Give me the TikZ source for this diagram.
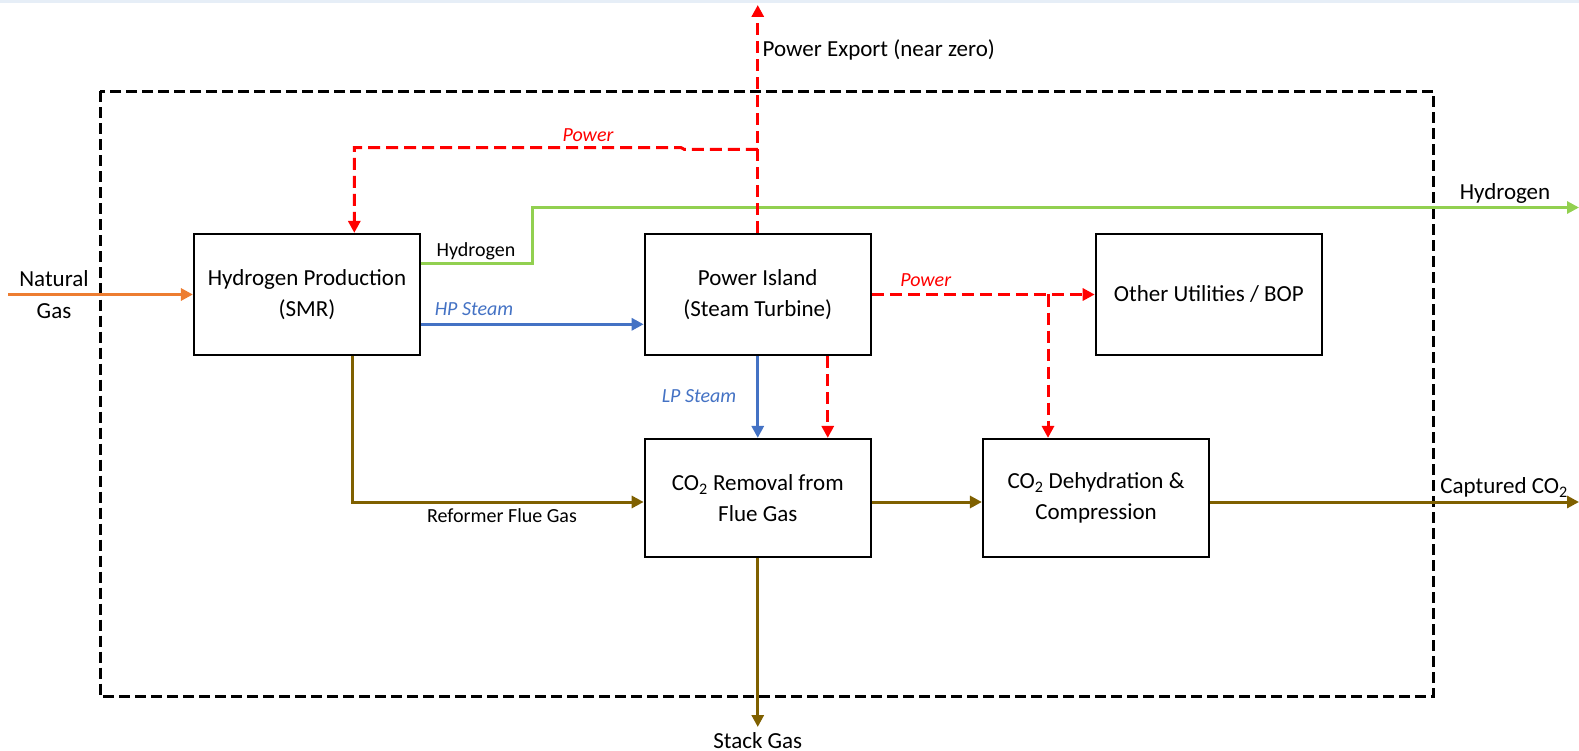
\documentclass[tikz,border=0pt]{standalone}
\usepackage{fontspec}
\setmainfont{Carlito}
\usetikzlibrary{arrows.meta}
\definecolor{ngorange}{HTML}{ED7D31}
\definecolor{h2green}{HTML}{92D050}
\definecolor{steamblue}{HTML}{4472C4}
\definecolor{fluebrown}{HTML}{7F6000}
\definecolor{pwred}{HTML}{FF0000}
\definecolor{topband}{HTML}{E6EEF7}

\begin{document}
\begin{tikzpicture}[x=1pt,y=-1pt,
  unit/.style={draw=black, line width=2.2pt, minimum width=226pt, minimum height=121pt,
    inner sep=0pt, align=center, font=\fontsize{23}{31}\selectfont},
  unitlow/.style={unit, minimum height=118pt},
  big/.style={inner sep=0pt, font=\fontsize{23}{31}\selectfont},
  small/.style={inner sep=0pt, font=\fontsize{20}{24}\selectfont},
  tip/.style={-{Triangle[length=12pt,width=12pt]}},
  flow/.style={line width=3pt, tip},
  gasflow/.style={flow, draw=ngorange, line width=3.5pt},
  h2flow/.style={flow, draw=h2green, line width=3.5pt},
  steam/.style={flow, draw=steamblue},
  flue/.style={flow, draw=fluebrown},
  power/.style={flow, draw=pwred, dash pattern=on 12pt off 6pt},
  boundary/.style={draw=black, line width=3pt, dash pattern=on 11pt off 5pt},
]
\useasboundingbox (0,0) rectangle (1579,751);
\fill[topband] (0,0) rectangle (1579,3);

% plant boundary
\draw[boundary] (100,91.5) rectangle (1433.5,696.5);

% process units
\node[unit] (smr) at (307,294.5) {Hydrogen Production\\(SMR)};
\node[unit] (pi)  at (757.75,294.5) {Power Island\\(Steam Turbine)};
\node[unit] (oth) at (1208.8,294.5) {Other Utilities / BOP};
\node[unitlow] (rem) at (757.75,498) {CO\textsubscript{2} Removal from\\Flue Gas};
\node[unitlow] (dhy) at (1096,498) {CO\textsubscript{2} Dehydration \&\\Compression};

% free ends and bends
\coordinate (ngin)  at (8,294.5);
\coordinate (h2bend) at (532.6,207.5);
\coordinate (h2out) at (1579,207.5);
\coordinate (pexp)  at (757.75,5);
\coordinate (pjunc) at (757.75,149.3);
\coordinate (pbranch) at (1048,294.5);
\coordinate (co2out) at (1579,502);
\coordinate (stack) at (757.75,727);

% natural gas feed
\draw[gasflow] (ngin) -- (smr);

% hydrogen product
\draw[h2flow] ([yshift=30.8pt]smr.east) -| (h2bend) -- (h2out);

% steam
\draw[steam] ([yshift=-29.8pt]smr.east) -- ([yshift=-29.8pt]pi.west);
\draw[steam] (pi.south) -- (rem.north);

% power distribution
\draw[power] (pi.north) -- (pexp);
\draw[power] (pjunc) -- ++(-73.6,0) -- ++(-3,-1.6) -| ([xshift=47.3pt]smr.north);
\draw[power] (pi.east) -- (oth.west);
\draw[power] (pbranch) -- (pbranch |- dhy.north);
\draw[power] ([xshift=70pt]pi.south) -- ([xshift=70pt]rem.north);

% flue gas and CO2
\draw[flue] ([xshift=45.2pt]smr.south) |- ([yshift=-4pt]rem.west);
\draw[flue] ([yshift=-4pt]rem.east) -- ([yshift=-4pt]dhy.west);
\draw[flue] ([yshift=-4pt]dhy.east) -- (co2out);
\draw[flue] (rem.south) -- (stack);

% stream labels
\node[big, anchor=base] (lnat) at (54,287) {Natural};
\node[big, anchor=base] (lgas) at (54,318) {Gas};
\node[small, anchor=base] (lh2a) at (476,256.7) {Hydrogen};
\node[small, anchor=base, text=steamblue, font=\fontsize{20}{24}\selectfont\itshape] (lhp) at (474,316) {HP Steam};
\node[small, anchor=base, text=steamblue, font=\fontsize{20}{24}\selectfont\itshape] (llp) at (699,402.7) {LP Steam};
\node[small, anchor=base, text=pwred, font=\fontsize{20}{24}\selectfont\itshape] (lpw1) at (588,141.7) {Power};
\node[small, anchor=base, text=pwred, font=\fontsize{20}{24}\selectfont\itshape] (lpw2) at (925.7,287) {Power};
\node[small, anchor=base] (lrfg) at (502,522.7) {Reformer Flue Gas};
\node[big, anchor=base west] (lexp) at (762.5,56.7) {Power Export (near zero)};
\node[big, anchor=base] (lh2b) at (1505,200) {Hydrogen};
\node[big, anchor=base] (lco2) at (1504,493.3) {Captured CO\textsubscript{2}};
\node[big, anchor=base] (lstk) at (757.75,748.3) {Stack Gas};
\end{tikzpicture}
\end{document}
